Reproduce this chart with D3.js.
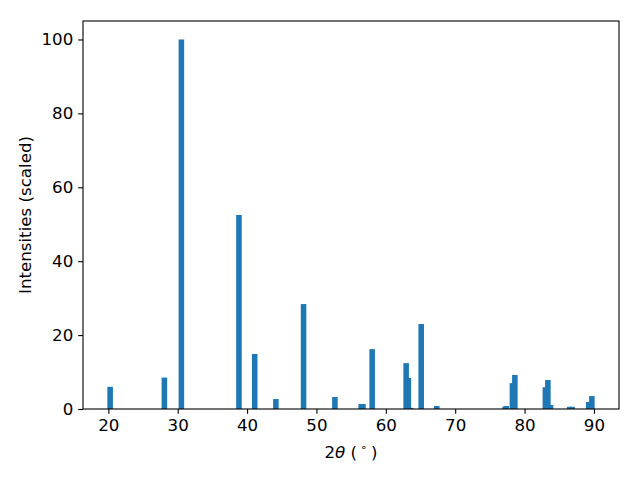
<!DOCTYPE html>
<html>
<head>
<meta charset="utf-8">
<script src="https://cdn.jsdelivr.net/npm/d3@7"></script>
<style>
  body { margin: 0; background: #fff; }
  text { font-family: "DejaVu Sans", sans-serif; }
</style>
</head>
<body>
<svg id="chart" width="640" height="480"></svg>
<script>
// peak positions (2theta, degrees) and scaled intensities
const peakPositions = [20.26, 28.08, 30.53, 38.83, 41.1, 44.15, 48.14, 52.66, 56.45, 56.7,
  58.03, 62.93, 63.25, 63.55, 65.1, 67.34, 77.2, 77.36, 78.25, 78.6, 83.0, 83.36, 83.75,
  86.5, 86.85, 89.25, 89.7];
const peakIntensities = [6.0, 8.5, 100, 52.5, 14.9, 2.7, 28.4, 3.25, 1.35, 1.35,
  16.2, 12.4, 8.4, 0.3, 23.0, 0.8, 0.6, 0.8, 7.0, 9.2, 5.9, 7.85, 1.1,
  0.6, 0.6, 1.9, 3.5];
const xTicks = [20, 30, 40, 50, 60, 70, 80, 90];
const yTicks = [0, 20, 40, 60, 80, 100];
const barWidth = 0.8;

const margin = {left: 83, right: 21, top: 21, bottom: 71};
const width = 640 - margin.left - margin.right;
const height = 480 - margin.top - margin.bottom;

const svg = d3.select("#chart");
const g = svg.append("g").attr("transform", `translate(${margin.left},${margin.top})`);

// matplotlib-like 5% margins around the bar extents
const lo = d3.min(peakPositions) - barWidth / 2;
const hi = d3.max(peakPositions) + barWidth / 2;
const pad = (hi - lo) * 0.05;
const x = d3.scaleLinear([lo - pad, hi + pad], [0, width]);
const y = d3.scaleLinear([0, d3.max(peakIntensities) * 1.05], [height, 0]);

const data = peakPositions.map((p, i) => ({p, v: peakIntensities[i]}));

g.selectAll("rect.bar")
  .data(data)
  .join("rect")
  .attr("class", "bar")
  .attr("x", d => x(d.p - barWidth / 2))
  .attr("width", d => x(d.p + barWidth / 2) - x(d.p - barWidth / 2))
  .attr("y", d => y(d.v))
  .attr("height", d => y(0) - y(d.v))
  .attr("fill", "#1f77b4");

const xAxis = g.append("g")
  .attr("transform", `translate(0,${height})`)
  .call(d3.axisBottom(x).tickValues(xTicks).tickSize(4.86).tickPadding(4.86).tickFormat(d3.format("d")));

const yAxis = g.append("g")
  .call(d3.axisLeft(y).tickValues(yTicks).tickSize(4.86).tickPadding(4.86).tickFormat(d3.format("d")));

[xAxis, yAxis].forEach(a => {
  a.select(".domain").remove();
  a.selectAll(".tick line").attr("stroke", "#000").attr("stroke-width", 1.1);
  a.selectAll(".tick text")
    .attr("fill", "#000")
    .style("font-family", "DejaVu Sans, sans-serif")
    .style("font-size", "16.67px");
});

// frame
g.append("rect")
  .attr("width", width).attr("height", height)
  .attr("fill", "none").attr("stroke", "#000").attr("stroke-width", 1.1);

// axis labels
const xl = svg.append("text")
  .attr("x", margin.left + width / 2)
  .attr("y", 458)
  .attr("text-anchor", "middle")
  .style("font-size", "16.67px");
xl.append("tspan").text("2");
xl.append("tspan").style("font-style", "italic").text("θ");
xl.append("tspan").text(" (");
xl.append("tspan").attr("dx", 3).attr("dy", -7).style("font-size", "11px").text("∘");
xl.append("tspan").attr("dx", 4).attr("dy", 7).text(")");

svg.append("text")
  .attr("transform", `translate(31,${margin.top + height / 2}) rotate(-90)`)
  .attr("text-anchor", "middle")
  .style("font-size", "16.67px")
  .text("Intensities (scaled)");
</script>
</body>
</html>
